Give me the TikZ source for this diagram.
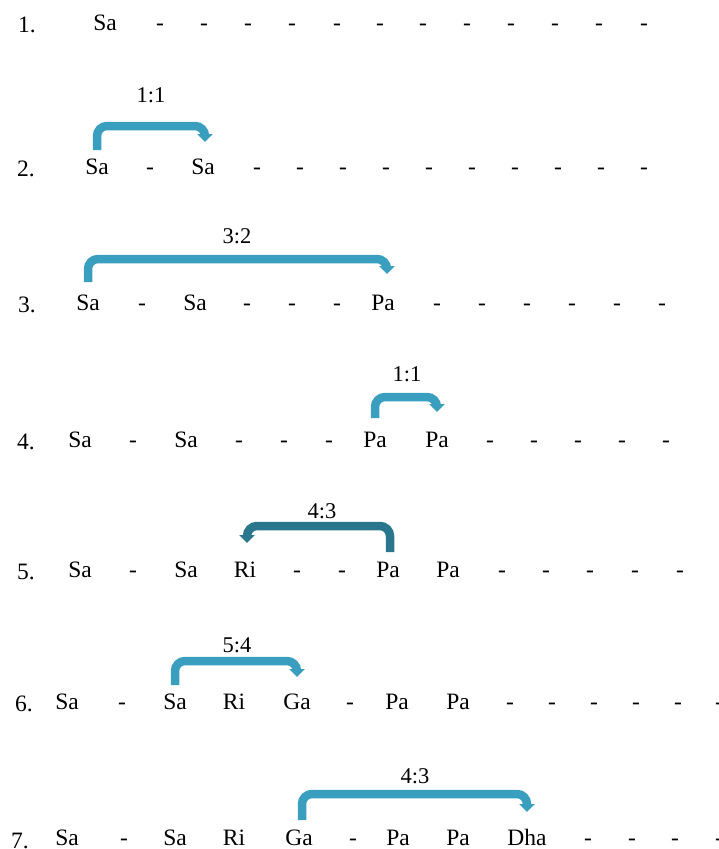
\documentclass[tikz,border=0pt]{standalone}
\usepackage{fontspec}
\setmainfont{Liberation Serif}
\usetikzlibrary{arrows.meta}
\definecolor{linkblue}{HTML}{3A9EBE}
\definecolor{linkdark}{HTML}{2A768C}
\begin{document}
\begin{tikzpicture}[x=1pt,y=-1pt,
  tok/.style={inner sep=0pt, anchor=base, font=\fontsize{23.5}{27}\selectfont},
  num/.style={inner sep=0pt, anchor=base west, font=\fontsize{23.5}{27}\selectfont},
  ratio/.style={inner sep=0pt, anchor=base, font=\fontsize{22.5}{26}\selectfont},
  link/.style={draw=linkblue, line width=8.5pt, rounded corners=10pt, -{Triangle[width=15pt,length=8pt]}},
  linkd/.style={link, draw=linkdark},
]
\useasboundingbox (0,0) rectangle (719,849);

% Row 1
\node[num] (n1) at (18,32) {1.};
\node[tok] (r1a) at (105,30) {Sa};
\foreach \x [count=\i] in {160,204,248,292,337,380,423,467,511,555,599,644}
  \node[tok] (r1d\i) at (\x,30) {-};

% Row 2
\node[num] (n2) at (17,176) {2.};
\node[tok] (r2a) at (97,174) {Sa};
\node[tok] (r2b) at (150,174) {-};
\node[tok] (r2c) at (203,174) {Sa};
\foreach \x [count=\i] in {257,300,343,386,429,472,515,558,601,644}
  \node[tok] (r2d\i) at (\x,174) {-};
\draw[link] ([yshift=24pt]r2a.base) |- ([xshift=2pt,yshift=48pt]r2c.base) -- ([xshift=2pt,yshift=32pt]r2c.base);
\node[ratio] (l2) at (151,102) {1:1};

% Row 3
\node[num] (n3) at (18,312) {3.};
\node[tok] (r3a) at (88,310) {Sa};
\node[tok] (r3b) at (142,310) {-};
\node[tok] (r3c) at (195,310) {Sa};
\node[tok] (r3d) at (247,310) {-};
\node[tok] (r3e) at (292,310) {-};
\node[tok] (r3f) at (337,310) {-};
\node[tok] (r3g) at (383,310) {Pa};
\foreach \x [count=\i] in {437,482,527,572,617,662}
  \node[tok] (r3h\i) at (\x,310) {-};
\draw[link] ([yshift=28pt]r3a.base) |- ([xshift=4pt,yshift=51pt]r3g.base) -- ([xshift=4pt,yshift=36pt]r3g.base);
\node[ratio] (l3) at (237,243) {3:2};

% Row 4
\node[num] (n4) at (17,449) {4.};
\node[tok] (r4a) at (80,447) {Sa};
\node[tok] (r4b) at (133,447) {-};
\node[tok] (r4c) at (186,447) {Sa};
\node[tok] (r4d) at (239,447) {-};
\node[tok] (r4e) at (284,447) {-};
\node[tok] (r4f) at (329,447) {-};
\node[tok] (r4g) at (375,447) {Pa};
\node[tok] (r4h) at (437,447) {Pa};
\foreach \x [count=\i] in {490,534,578,622,666}
  \node[tok] (r4i\i) at (\x,447) {-};
\draw[link] ([yshift=29pt]r4g.base) |- ([yshift=50pt]r4h.base) -- ([yshift=35pt]r4h.base);
\node[ratio] (l4) at (407,381) {1:1};

% Row 5
\node[num] (n5) at (17,579) {5.};
\node[tok] (r5a) at (80,577) {Sa};
\node[tok] (r5b) at (133,577) {-};
\node[tok] (r5c) at (186,577) {Sa};
\node[tok] (r5d) at (245,577) {Ri};
\node[tok] (r5e) at (297,577) {-};
\node[tok] (r5f) at (342,577) {-};
\node[tok] (r5g) at (388,577) {Pa};
\node[tok] (r5h) at (448,577) {Pa};
\foreach \x [count=\i] in {502,546,590,635,680}
  \node[tok] (r5i\i) at (\x,577) {-};
\draw[linkd] ([xshift=2pt,yshift=25pt]r5g.base) |- ([xshift=2pt,yshift=51pt]r5d.base) -- ([xshift=2pt,yshift=34pt]r5d.base);
\node[ratio] (l5) at (322,518) {4:3};

% Row 6
\node[num] (n6) at (15,711) {6.};
\node[tok] (r6a) at (67,709) {Sa};
\node[tok] (r6b) at (122,709) {-};
\node[tok] (r6c) at (175,709) {Sa};
\node[tok] (r6d) at (234,709) {Ri};
\node[tok] (r6e) at (297,709) {Ga};
\node[tok] (r6f) at (350,709) {-};
\node[tok] (r6g) at (397,709) {Pa};
\node[tok] (r6h) at (458,709) {Pa};
\foreach \x [count=\i] in {510,552,594,636,678,719}
  \node[tok] (r6i\i) at (\x,709) {-};
\draw[link] ([yshift=24pt]r6c.base) |- ([yshift=48pt]r6e.base) -- ([yshift=32pt]r6e.base);
\node[ratio] (l6) at (237,652) {5:4};

% Row 7
\node[num] (n7) at (11,848) {7.};
\node[tok] (r7a) at (67,845) {Sa};
\node[tok] (r7b) at (124,845) {-};
\node[tok] (r7c) at (175,845) {Sa};
\node[tok] (r7d) at (234,845) {Ri};
\node[tok] (r7e) at (299,845) {Ga};
\node[tok] (r7f) at (353,845) {-};
\node[tok] (r7g) at (398,845) {Pa};
\node[tok] (r7h) at (458,845) {Pa};
\node[tok] (r7i) at (527,845) {Dha};
\foreach \x [count=\i] in {588,632,675,719}
  \node[tok] (r7j\i) at (\x,845) {-};
\draw[link] ([xshift=3pt,yshift=25pt]r7e.base) |- ([yshift=51pt]r7i.base) -- ([yshift=33pt]r7i.base);
\node[ratio] (l7) at (415,783) {4:3};
\end{tikzpicture}
\end{document}
